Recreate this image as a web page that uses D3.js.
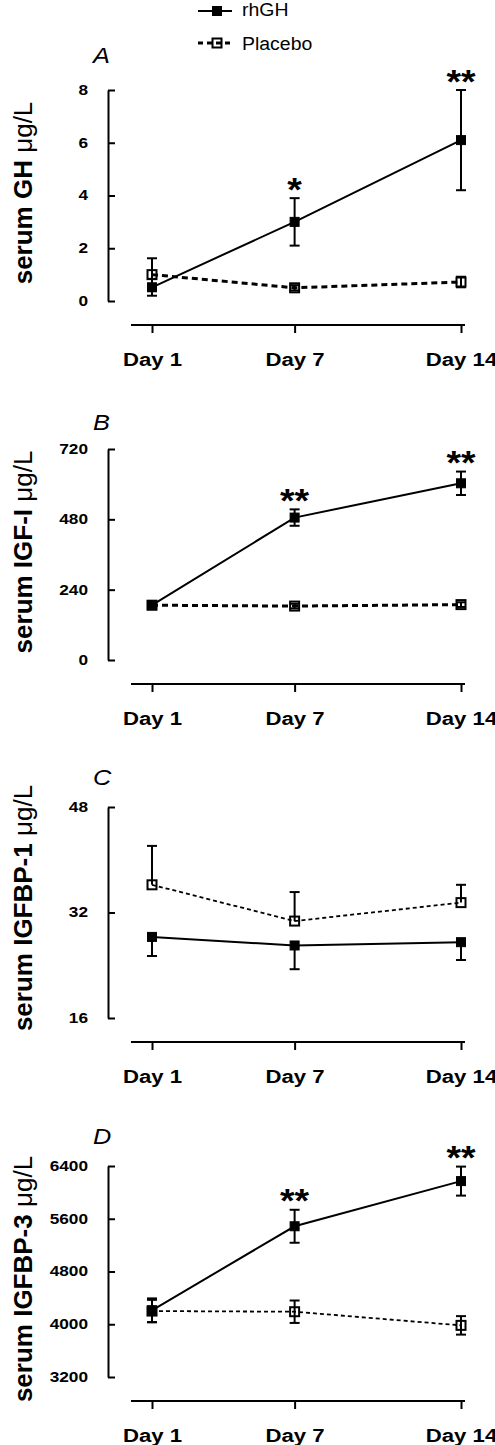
<!DOCTYPE html>
<html><head><meta charset="utf-8">
<script src="https://cdn.jsdelivr.net/npm/d3@7"></script>
<style>body{margin:0;background:#fff}svg{display:block}text{font-family:"Liberation Sans",Arial,sans-serif}</style>
</head><body><div id="c"></div>
<script>
// ---- data ----
const days = ["Day 1", "Day 7", "Day 14"];
const dayNums = [1, 7, 14];
const seriesNames = ["rhGH", "Placebo"];
const panelLetters = ["A", "B", "C", "D"];
const yLabels = ["serum GH ", "serum IGF-I ", "serum IGFBP-1 ", "serum IGFBP-3 "];
const yUnit = "μg/L";
const yTicks = [[0, 2, 4, 6, 8], [0, 240, 480, 720], [16, 32, 48], [3200, 4000, 4800, 5600, 6400]];
const ghRh = [0.52, 3.0, 6.1],       ghRhErr = [0.32, 0.9, 1.9];
const ghPl = [1.0, 0.5, 0.72],       ghPlErr = [0.62, 0.1, 0.2];
const igfRh = [187, 486, 603],       igfRhErr = [12, 28, 40];
const igfPl = [187, 184, 189],       igfPlErr = [8, 8, 8];
const bp1Rh = [28.3, 27.0, 27.5],    bp1RhErr = [2.9, 3.6, 2.7];
const bp1Pl = [36.2, 30.7, 33.5],    bp1PlErr = [5.9, 4.4, 2.7];
const bp3Rh = [4212, 5486, 6171],    bp3RhErr = [180, 250, 220];
const bp3Pl = [4200, 4190, 3983],    bp3PlErr = [170, 170, 140];
const starsGH = ["", "*", "**"], starsIGF = ["", "**", "**"], starsBP1 = ["", "", ""], starsBP3 = ["", "**", "**"];

// ---- layout ----
const W = 495, H = 1445;
const svg = d3.select("#c").append("svg").attr("width", W).attr("height", H);
const x = d3.scaleLinear().domain([1, 14]).range([152, 461]);
const axisX = 108, xAxisL = 131, xAxisR = 465;

const panels = [
  {top: 90, rh: ghRh, rhE: ghRhErr, pl: ghPl, plE: ghPlErr, stars: starsGH, dir: [0, 0], thick: true, letterDy: -27, labelC: 193},
  {top: 449, rh: igfRh, rhE: igfRhErr, pl: igfPl, plE: igfPlErr, stars: starsIGF, dir: [0, 0], thick: true, letterDy: -19, labelC: 552},
  {top: 807, rh: bp1Rh, rhE: bp1RhErr, pl: bp1Pl, plE: bp1PlErr, stars: starsBP1, dir: [-1, 1], thick: false, letterDy: -22, labelC: 908},
  {top: 1166, rh: bp3Rh, rhE: bp3RhErr, pl: bp3Pl, plE: bp3PlErr, stars: starsBP3, dir: [0, 0], thick: false, letterDy: -22, labelC: 1279}
];
const plotH = 211;

function stretch(sel, f) {
  sel.each(function () {
    const n = this.getComputedTextLength();
    d3.select(this).attr("textLength", n * f).attr("lengthAdjust", "spacingAndGlyphs");
  });
}

panels.forEach((p, i) => {
  const ticks = yTicks[i];
  const y = d3.scaleLinear().domain([ticks[0], ticks[ticks.length - 1]]).range([p.top + plotH, p.top]);
  const g = svg.append("g");

  // y axis (ticks pointing inward)
  const ya = g.append("g").attr("transform", `translate(${axisX},0)`)
    .call(d3.axisLeft(y).tickValues(ticks).tickSize(-7).tickPadding(20).tickSizeOuter(0).tickFormat(d3.format("d")));
  ya.select(".domain").attr("stroke", "#000").attr("stroke-width", 2);
  ya.selectAll(".tick line").attr("stroke", "#000").attr("stroke-width", 2);
  ya.selectAll(".tick text").attr("font-size", 14).attr("font-weight", "bold").attr("fill", "#000")
    .attr("x", -20).call(stretch, 1.23);

  // x axis
  const xAxY = p.top + 235;
  const xa = g.append("g").attr("transform", `translate(0,${xAxY})`)
    .call(d3.axisBottom(x).tickValues(dayNums).tickSize(8).tickSizeOuter(0).tickFormat((d, k) => days[k]));
  xa.select(".domain").remove();
  xa.append("line").attr("x1", xAxisL).attr("x2", xAxisR).attr("stroke", "#000").attr("stroke-width", 2);
  xa.selectAll(".tick line").attr("stroke", "#000").attr("stroke-width", 2);
  xa.selectAll(".tick text").attr("font-size", 18).attr("font-weight", "bold").attr("fill", "#000")
    .attr("y", 41).attr("dy", 0).call(stretch, 1.23);

  // y label
  const lab = g.append("text").attr("transform", `translate(32,${p.labelC}) rotate(-90)`)
    .attr("text-anchor", "middle").attr("font-size", 26).attr("font-weight", "bold");
  lab.append("tspan").text(yLabels[i]);
  lab.append("tspan").attr("font-weight", "normal").text(yUnit);

  // panel letter
  g.append("text").attr("x", 93).attr("y", p.top + p.letterDy).attr("font-size", 22).attr("font-style", "italic")
    .text(panelLetters[i]).call(stretch, 1.15);

  const line = d3.line().x((d, k) => x(dayNums[k])).y(d => y(d));
  const series = [
    {v: p.pl, e: p.plE, open: true, dir: p.dir[1]},
    {v: p.rh, e: p.rhE, open: false, dir: p.dir[0]}
  ];
  series.forEach(s => {
    const path = g.append("path").datum(s.v).attr("d", line).attr("fill", "none").attr("stroke", "#000");
    if (s.open) {
      if (p.thick) path.attr("stroke-width", 3).attr("stroke-dasharray", "6,4");
      else path.attr("stroke-width", 1.8).attr("stroke-dasharray", "4,3");
    } else path.attr("stroke-width", 2);
    // error bars
    s.v.forEach((v, k) => {
      const cx = x(dayNums[k]);
      const hi = s.dir >= 0 ? v + s.e[k] : v;
      const lo = s.dir <= 0 ? v - s.e[k] : v;
      g.append("line").attr("x1", cx).attr("x2", cx).attr("y1", y(hi)).attr("y2", y(lo)).attr("stroke", "#000").attr("stroke-width", 2);
      if (s.dir >= 0) g.append("line").attr("x1", cx - 5).attr("x2", cx + 5).attr("y1", y(hi)).attr("y2", y(hi)).attr("stroke", "#000").attr("stroke-width", 2);
      if (s.dir <= 0) g.append("line").attr("x1", cx - 5).attr("x2", cx + 5).attr("y1", y(lo)).attr("y2", y(lo)).attr("stroke", "#000").attr("stroke-width", 2);
    });
    g.selectAll(null).data(s.v).enter().append("rect")
      .attr("x", (d, k) => x(dayNums[k]) - 4.5).attr("y", d => y(d) - 4.5).attr("width", 9).attr("height", 9)
      .attr("fill", s.open ? "none" : "#000").attr("stroke", "#000").attr("stroke-width", s.open ? 2 : 1);
  });

  // significance stars
  p.stars.forEach((st, k) => {
    if (!st) return;
    const top = y(p.rh[k] + p.rhE[k]);
    g.append("text").attr("x", x(dayNums[k])).attr("y", top - 17.5 + 20).attr("text-anchor", "middle")
      .attr("font-size", 34).attr("font-weight", "bold").text(st).call(stretch, 1.1);
  });
});

// legend
const lg = svg.append("g");
[{y: 11, open: false, name: seriesNames[0], ty: 16}, {y: 43, open: true, name: seriesNames[1], ty: 50}].forEach(l => {
  const ln = lg.append("line").attr("x1", 198).attr("x2", 232).attr("y1", l.y).attr("y2", l.y).attr("stroke", "#000");
  if (l.open) ln.attr("stroke-width", 3).attr("stroke-dasharray", "5,4");
  else ln.attr("stroke-width", 2);
  lg.append("rect").attr("x", 212.5).attr("y", l.y - 4.5).attr("width", 9).attr("height", 9)
    .attr("fill", l.open ? "none" : "#000").attr("stroke", "#000").attr("stroke-width", l.open ? 2 : 1);
  lg.append("text").attr("x", 242).attr("y", l.ty).attr("font-size", 18).text(l.name).call(stretch, 1.08);
});
</script></body></html>
